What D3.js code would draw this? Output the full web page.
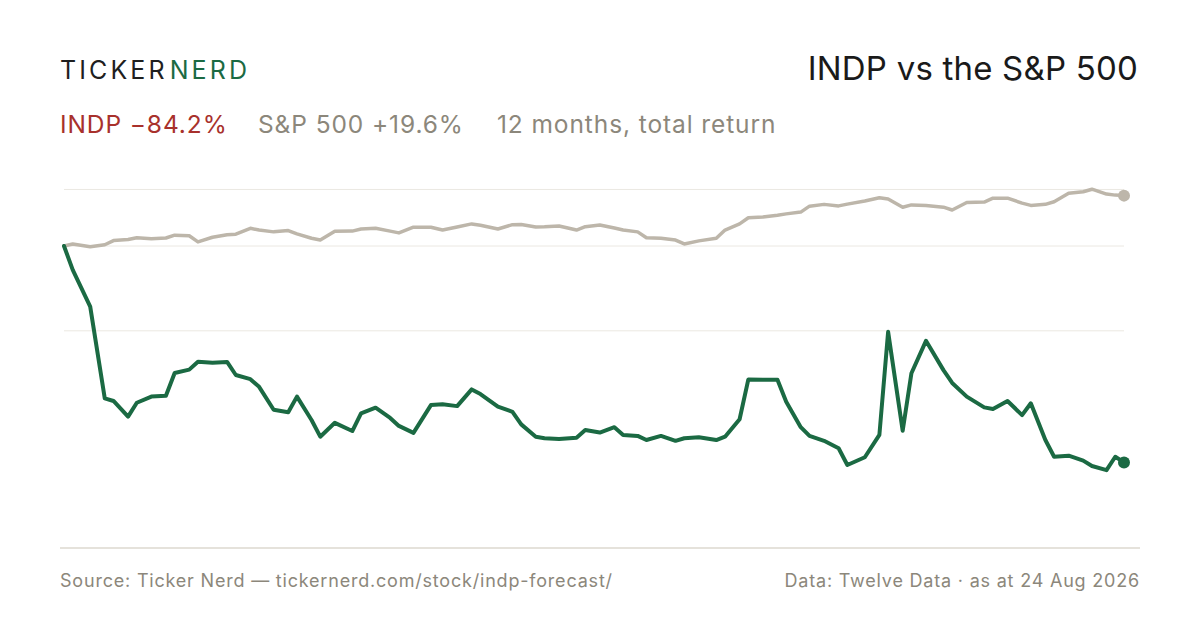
<!DOCTYPE html>
<html>
<head>
<meta charset="utf-8">
<script src="https://cdn.jsdelivr.net/npm/d3@7"></script>
<style>
  html, body { margin: 0; padding: 0; background: #fff; }
  svg { display: block; font-family: Inter, "Liberation Sans", sans-serif; }
</style>
</head>
<body>
<svg id="chart" width="1200" height="630"></svg>
<script>
// every third trading day, plus the last close
var dates = [
  "2025-08-25","2025-08-28","2025-09-03","2025-09-08","2025-09-11","2025-09-16","2025-09-19",
  "2025-09-24","2025-09-29","2025-10-02","2025-10-07","2025-10-10","2025-10-15","2025-10-20",
  "2025-10-23","2025-10-28","2025-10-31","2025-11-05","2025-11-10","2025-11-13","2025-11-18",
  "2025-11-21","2025-11-26","2025-12-02","2025-12-05","2025-12-10","2025-12-15","2025-12-18",
  "2025-12-23","2025-12-29","2026-01-02","2026-01-07","2026-01-12","2026-01-15","2026-01-21",
  "2026-01-26","2026-01-29","2026-02-03","2026-02-06","2026-02-11","2026-02-17","2026-02-20",
  "2026-02-25","2026-03-02","2026-03-05","2026-03-10","2026-03-13","2026-03-18","2026-03-23",
  "2026-03-26","2026-03-31","2026-04-06","2026-04-09","2026-04-14","2026-04-17","2026-04-22",
  "2026-04-27","2026-04-30","2026-05-05","2026-05-08","2026-05-13","2026-05-18","2026-05-21",
  "2026-05-27","2026-06-01","2026-06-04","2026-06-09","2026-06-12","2026-06-17","2026-06-23",
  "2026-06-26","2026-07-01","2026-07-07","2026-07-10","2026-07-15","2026-07-20","2026-07-23",
  "2026-07-28","2026-07-31","2026-08-05","2026-08-10","2026-08-13","2026-08-18","2026-08-21",
  "2026-08-24"
];

// cumulative total return, %
var indp = [
  0, -9.3, -23.6, -59.3, -60.3, -66.4, -61.0, -58.6, -58.3, -49.4, -48.1, -45.0, -45.4, -45.1,
  -50.2, -51.8, -54.8, -63.7, -64.7, -58.6, -67.7, -74.2, -68.8, -72.0, -65.1, -62.9, -66.9,
  -70.0, -72.7, -61.9, -61.6, -62.3, -55.8, -57.6, -62.5, -64.5, -69.4, -74.2, -74.8, -75.1,
  -74.6, -71.6, -72.6, -70.5, -73.5, -73.9, -75.5, -73.9, -75.8, -74.8, -74.4, -75.5, -74.2,
  -67.4, -51.9, -52.0, -52.0, -60.6, -70.5, -73.9, -75.8, -78.7, -85.2, -82.2, -73.5, -33.4,
  -71.9, -49.5, -36.9, -48.3, -53.3, -58.6, -62.8, -63.4, -60.3, -65.8, -61.2, -75.5, -82.0,
  -81.6, -83.5, -85.6, -87.2, -82.0, -84.2
];

var spx = [
  0, 0.8, -0.3, 0.5, 2.1, 2.5, 3.2, 2.8, 3.1, 4.2, 4.0, 1.6, 3.4, 4.4, 4.6, 6.9, 6.2, 5.5, 6.0,
  4.7, 3.0, 2.3, 5.7, 5.8, 6.6, 6.9, 5.8, 5.1, 7.3, 7.3, 6.2, 7.4, 8.6, 8.1, 6.6, 8.3, 8.4, 7.4,
  7.5, 7.8, 6.2, 7.5, 8.2, 7.0, 6.2, 5.5, 3.2, 3.0, 2.3, 0.8, 2.0, 3.0, 6.2, 8.6, 11.0, 11.3,
  12.0, 12.5, 13.2, 15.5, 16.2, 15.6, 16.3, 17.5, 18.8, 18.3, 15.1, 16.0, 15.8, 15.1, 14.0, 16.9,
  17.1, 18.6, 18.6, 16.7, 15.8, 16.2, 17.2, 20.5, 21.1, 22.1, 20.2, 19.8, 19.6
];

var gridTicks = [22, 0, -33];

var headline = [
  { text: "INDP \u221284.2%", color: "#a8312c", x: 60 },
  { text: "S&P 500 +19.6%", color: "#8c877b", x: 258 },
  { text: "12 months, total return", color: "#8c877b", x: 497 }
];

var parseDate = d3.timeParse("%Y-%m-%d");
var rows = dates.map(function(d, i) {
  return { date: parseDate(d), indp: indp[i], spx: spx[i] };
});

var svg = d3.select("#chart");

var x = d3.scaleTime()
  .domain(d3.extent(rows, function(d) { return d.date; }))
  .range([64, 1124]);

var y = d3.scaleLinear()
  .domain([-100, 25])
  .range([503, 181.75]);

// gridlines
svg.append("g").attr("class", "grid")
  .selectAll("line").data(gridTicks).enter().append("line")
  .attr("x1", x.range()[0]).attr("x2", x.range()[1])
  .attr("y1", function(d) { return y(d); }).attr("y2", function(d) { return y(d); })
  .attr("stroke", "#ebe8e2").attr("stroke-width", 1);

// baseline under the plot
svg.append("line")
  .attr("x1", 60).attr("x2", 1140).attr("y1", 548).attr("y2", 548)
  .attr("stroke", "#dcd8cf").attr("stroke-width", 1.5);

function lineFor(key) {
  return d3.line()
    .x(function(d) { return x(d.date); })
    .y(function(d) { return y(d[key]); });
}

var series = [
  { key: "spx", color: "#bdb6aa", width: 3.5 },
  { key: "indp", color: "#1b6a43", width: 4 }
];

series.forEach(function(s) {
  svg.append("path").datum(rows)
    .attr("fill", "none")
    .attr("stroke", s.color)
    .attr("stroke-width", s.width)
    .attr("stroke-linejoin", "round")
    .attr("stroke-linecap", "round")
    .attr("d", lineFor(s.key));
  var last = rows[rows.length - 1];
  svg.append("circle")
    .attr("cx", x(last.date)).attr("cy", y(last[s.key]))
    .attr("r", 6).attr("fill", s.color);
});

// header
var brand = svg.append("text")
  .attr("x", 60).attr("y", 79)
  .attr("font-size", 25).attr("letter-spacing", 3.1);
brand.append("tspan").attr("fill", "#1f1f1f").text("TICKER");
brand.append("tspan").attr("fill", "#1b6a43").attr("dx", 2).text("NERD");

svg.append("text")
  .attr("x", 1138).attr("y", 80)
  .attr("text-anchor", "end")
  .attr("font-size", 33).attr("letter-spacing", 0.2).attr("fill", "#1a1a1a")
  .text("INDP vs the S&P 500");

svg.append("g").selectAll("text").data(headline).enter().append("text")
  .attr("x", function(d) { return d.x; }).attr("y", 133)
  .attr("font-size", 24.5).attr("letter-spacing", 0.9)
  .attr("fill", function(d) { return d.color; })
  .text(function(d) { return d.text; });

// footer
svg.append("text")
  .attr("x", 60).attr("y", 587)
  .attr("font-size", 18).attr("letter-spacing", 0.8).attr("fill", "#8c877b")
  .text("Source: Ticker Nerd \u2014 tickernerd.com/stock/indp-forecast/");

svg.append("text")
  .attr("x", 1140).attr("y", 587)
  .attr("text-anchor", "end")
  .attr("font-size", 18).attr("letter-spacing", 0.8).attr("fill", "#8c877b")
  .text("Data: Twelve Data \u00b7 as at 24 Aug 2026");
</script>
</body>
</html>
